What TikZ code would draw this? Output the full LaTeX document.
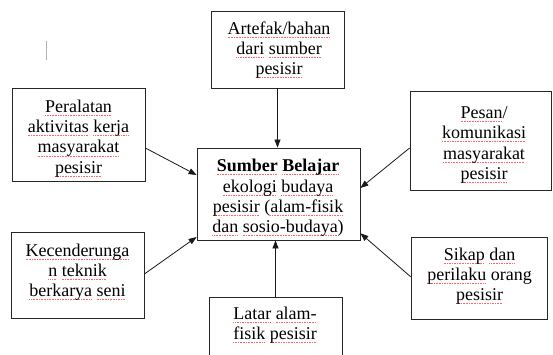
\documentclass[tikz,border=0pt]{standalone}
\usepackage{fontspec}
\setmainfont{Liberation Serif}
\usetikzlibrary{arrows.meta}
\newcommand\sq[1]{\setbox0\hbox{#1}\leavevmode\rlap{\color{red!60}\xleaders\hbox to 1.6pt{\vrule width 0.8pt height -2.6pt depth 3.3pt\hfil}\hskip\wd0}\box0\relax}
\tikzset{
  box/.style={draw=black!85, line width=0.8pt, inner sep=0pt},
  txt/.style={align=center, inner sep=0pt, font=\fontsize{18}{20.3}\selectfont, text=black},
  arr/.style={-{Triangle[length=8pt,width=6pt]}, line width=0.8pt, draw=black!90}
}
\begin{document}
\begin{tikzpicture}[x=1pt,y=-1pt]
\fill[white] (0,0) rectangle (553,355);
\useasboundingbox (0,0) rectangle (553,355);
\draw[black!30, line width=0.6pt] (46.7,41) -- (46.7,60);
% boxes
\node[box, minimum width=133pt, minimum height=77pt] (art) at (277.5,49.5) {};
\node[box, minimum width=163pt, minimum height=92pt] (sb) at (278.5,194) {};
\node[box, minimum width=133pt, minimum height=93pt] (per) at (78.5,134.5) {};
\node[box, minimum width=141pt, minimum height=99pt] (pes) at (480.5,140.5) {};
\node[box, minimum width=133pt, minimum height=86pt] (kec) at (77.5,275) {};
\node[box, minimum width=136pt, minimum height=82pt] (sik) at (479,278) {};
\node[box, minimum width=133pt, minimum height=83pt] (lat) at (275.5,338.5) {};
% texts
\node[txt] (tart) at (279,50) {\sq{Artefak/bahan}\\\sq{dari} \sq{sumber}\\\sq{pesisir}};
\node[txt] (tsb) at (278,198) {\textbf{\sq{Sumber} \sq{Belajar}}\\\sq{ekologi} \sq{budaya}\\\sq{pesisir} (\sq{alam-fisik}\\\sq{dan} \sq{sosio-budaya})};
\node[txt] (tper) at (78.5,138.5) {\sq{Peralatan}\\\sq{aktivitas} \sq{kerja}\\\sq{masyarakat}\\\sq{pesisir}};
\node[txt] (tpes) at (484,145) {\sq{Pesan}/\\\sq{komunikasi}\\\sq{masyarakat}\\\sq{pesisir}};
\node[txt] (tkec) at (77.5,272) {\sq{Kecenderunga}\\\sq{n} \sq{teknik}\\\sq{berkarya} \sq{seni}};
\node[txt] (tsik) at (479.5,276) {\sq{Sikap} \sq{dan}\\\sq{perilaku} orang\\\sq{pesisir}};
\node[txt] (tlat) at (275,325) {\sq{Latar} \sq{alam-}\\\sq{fisik} \sq{pesisir}};
% arrows
\draw[arr] (art.south) -- (art.south |- sb.north);
\draw[arr] ([yshift=-13.5pt]per.east) -- ([yshift=19pt]sb.west);
\draw[arr] ([yshift=1pt]kec.east) -- ([yshift=-43pt]sb.west);
\draw[arr] ([yshift=-7.5pt]pes.west) -- ([yshift=6pt]sb.east);
\draw[arr] ([yshift=1.3pt]sik.west) -- ([yshift=-39.3pt]sb.east);
\draw[arr] (lat.north) -- (lat.north |- sb.south);
\end{tikzpicture}
\end{document}
